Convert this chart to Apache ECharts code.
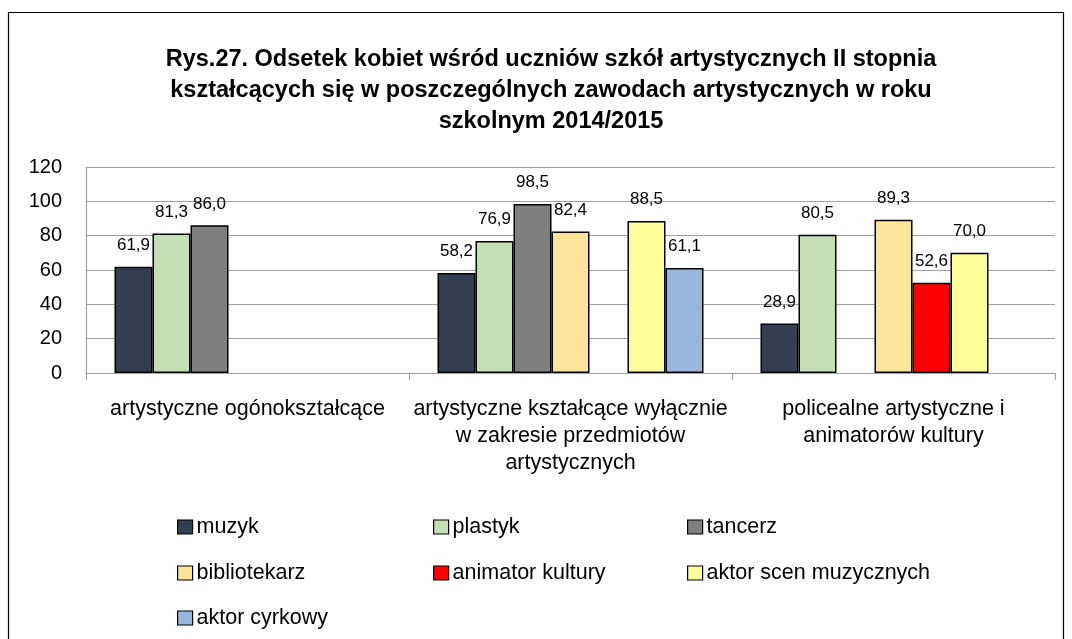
<!DOCTYPE html>
<html>
<head>
<meta charset="utf-8">
<script src="https://cdn.jsdelivr.net/npm/echarts@6/dist/echarts.min.js"></script>
<style>
html,body{margin:0;padding:0;background:#fff;}
#chart{width:1072px;height:639px;}
</style>
</head>
<body>
<div id="chart"></div>
<script>
const titleText = 'Rys.27. Odsetek kobiet wśród uczniów szkół artystycznych II stopnia\nkształcących się w poszczególnych zawodach artystycznych w roku\nszkolnym 2014/2015';
const categories = [
  'artystyczne ogónokształcące',
  'artystyczne kształcące wyłącznie\nw zakresie przedmiotów\nartystycznych',
  'policealne artystyczne i\nanimatorów kultury'
];
const seriesNames = ['muzyk','plastyk','tancerz','bibliotekarz','animator kultury','aktor scen muzycznych','aktor cyrkowy'];
const muzyk = [61.9, 58.2, 28.9];
const plastyk = [81.3, 76.9, 80.5];
const tancerz = [86.0, 98.5, null];
const bibliotekarz = [null, 82.4, 89.3];
const animatorKultury = [null, null, 52.6];
const aktorScenMuzycznych = [null, 88.5, 70.0];
const aktorCyrkowy = [null, 61.1, null];
const yTicks = [0, 20, 40, 60, 80, 100, 120];

const seriesData = [muzyk, plastyk, tancerz, bibliotekarz, animatorKultury, aktorScenMuzycznych, aktorCyrkowy];
const colors = ['#333F50','#C5DFB5','#7F7F7F','#FDE49A','#FF0000','#FEFE98','#96B6DC'];
const FONT = '"Liberation Sans", Arial, sans-serif';

// legend grid: 3 columns x 3 rows (Excel-like layout)
const legendCols = [172, 428, 682];
const legendRows = [522, 568, 613];

const chart = echarts.init(document.getElementById('chart'), null, {renderer:'canvas'});

const series = seriesNames.map((name, i) => ({
  name: name,
  type: 'bar',
  data: seriesData[i],
  barWidth: 38,
  barGap: '0%',
  itemStyle: {color: colors[i], borderColor: '#000', borderWidth: 1.5},
  label: {
    show: true,
    position: 'top',
    distance: 13,
    color: '#000',
    fontFamily: FONT,
    fontSize: 17,
    formatter: p => p.value == null ? '' : p.value.toFixed(1).replace('.', ',')
  }
}));

const legends = seriesNames.map((name, i) => ({
  show: true,
  orient: 'horizontal',
  itemWidth: 15,
  itemHeight: 14,
  icon: 'rect',
  left: legendCols[i % 3],
  top: legendRows[Math.floor(i / 3)] - 11,
  data: [name],
  textStyle: {fontFamily: FONT, fontSize: 21.5, lineHeight: 22, color: '#000', padding: [0,0,0,-1]},
  itemStyle: {borderColor: '#000', borderWidth: 1.2}
}));

chart.setOption({
  backgroundColor: '#fff',
  animation: false,
  color: colors,
  title: {
    text: titleText,
    left: 546,
    top: 39,
    textAlign: 'center',
    textStyle: {fontFamily: FONT, fontWeight: 'bold', fontSize: 23.5, lineHeight: 31, color: '#000'}
  },
  graphic: [{
    type: 'rect',
    shape: {x: 8.5, y: 12.5, width: 1055, height: 640},
    style: {fill: 'none', stroke: '#000', lineWidth: 1.2},
    silent: true
  }],
  legend: legends,
  grid: {left: 86, right: 17, top: 167, height: 206, containLabel: false},
  xAxis: {
    type: 'category',
    data: categories,
    axisLine: {lineStyle: {color: '#A0A0A0', width: 1.2}},
    axisTick: {show: true, length: 7, lineStyle: {color: '#A0A0A0'}},
    axisLabel: {fontFamily: FONT, fontSize: 21.5, color: '#000', lineHeight: 27, margin: 23, interval: 0}
  },
  yAxis: {
    type: 'value',
    min: yTicks[0],
    max: yTicks[yTicks.length - 1],
    interval: yTicks[1] - yTicks[0],
    axisLine: {show: true, lineStyle: {color: '#A0A0A0', width: 1.2}},
    axisTick: {show: false},
    splitLine: {lineStyle: {color: '#A0A0A0', width: 1.2}},
    axisLabel: {fontFamily: FONT, fontSize: 20, color: '#000', margin: 24}
  },
  series: series
});
</script>
</body>
</html>
